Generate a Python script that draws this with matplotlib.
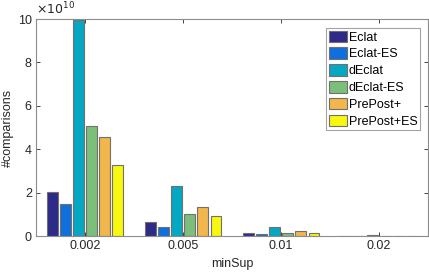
import numpy as np
import matplotlib.pyplot as plt

plt.rcParams['font.family'] = ['Liberation Sans', 'DejaVu Sans']

min_sup = ['0.002', '0.005', '0.01', '0.02']
methods = ['Eclat', 'Eclat-ES', 'dEclat', 'dEclat-ES', 'PrePost+', 'PrePost+ES']
# values in units of 1e10
eclat = [2.04, 0.63, 0.14, 0.02]
eclat_es = [1.46, 0.41, 0.08, 0.01]
declat = [9.97, 2.32, 0.40, 0.03]
declat_es = [5.08, 1.00, 0.15, 0.01]
prepost = [4.58, 1.34, 0.23, 0.02]
prepost_es = [3.27, 0.91, 0.12, 0.01]
series = [eclat, eclat_es, declat, declat_es, prepost, prepost_es]
colors = ['#2e2a87', '#0f6fdc', '#06a7c2', '#7cbf7a', '#f1b64c', '#f8f80f']

fig = plt.figure(figsize=(4.29, 2.77), dpi=100)
ax = fig.add_axes([0.084, 0.148, 0.914, 0.783])

x = np.arange(1, len(min_sup) + 1)
step = 0.8 / len(series)
for i, (vals, c, name) in enumerate(zip(series, colors, methods)):
    off = (i - (len(series) - 1) / 2) * step
    ax.bar(x + off, vals, width=step * 0.8, color=c, edgecolor='#707070',
           linewidth=0.8, label=name)

ax.set_xlim(0.5, 4.5)
ax.set_ylim(0, 10)
ax.set_xticks(x)
ax.set_xticklabels(min_sup)
ax.set_yticks([0, 2, 4, 6, 8, 10])
ax.tick_params(direction='in', top=True, right=True, length=3, width=0.6,
               colors='#262626', labelsize=9, pad=3)
for s in ax.spines.values():
    s.set_color('#8c8c8c')
    s.set_linewidth(0.8)
ax.set_xlabel('minSup', fontsize=9, color='#262626', labelpad=4)
ax.set_ylabel('#comparisons', fontsize=9, color='#262626', labelpad=3)
ax.text(0.0, 1.01, r'$\times10^{10}$', transform=ax.transAxes, fontsize=9,
        color='#262626', ha='left', va='bottom')

leg = ax.legend(loc='upper right', bbox_to_anchor=(0.985, 0.97), fontsize=9,
                frameon=True, fancybox=False, handlelength=1.45, handleheight=1.05,
                handletextpad=0.15, labelspacing=0.3, borderpad=0.2,
                borderaxespad=0.2)
leg.get_frame().set_edgecolor('#8c8c8c')
leg.get_frame().set_linewidth(0.8)

fig.savefig('out.png', dpi=100)
